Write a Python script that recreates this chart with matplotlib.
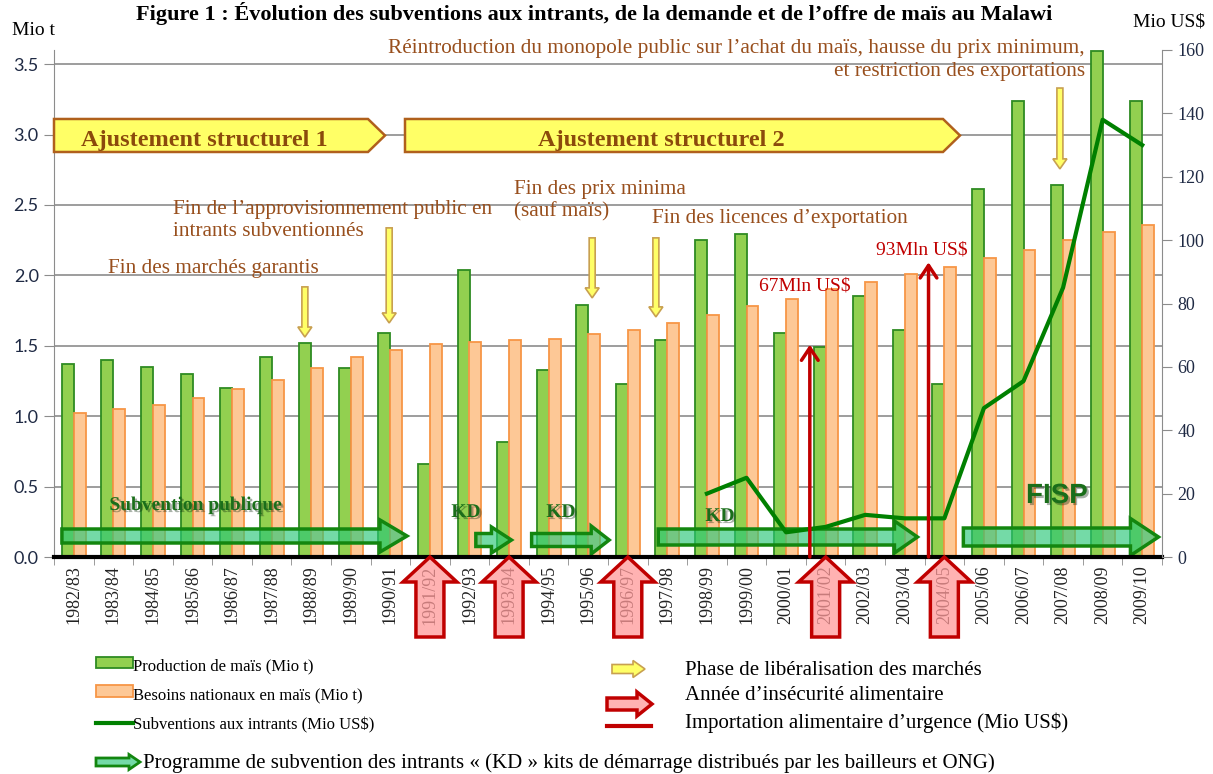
import numpy as np
import matplotlib.pyplot as plt
from matplotlib.patches import Polygon
import matplotlib.patheffects as pe

plt.rcParams['font.family'] = ['Liberation Serif', 'DejaVu Serif']

seasons = ['1982/83', '1983/84', '1984/85', '1985/86', '1986/87', '1987/88', '1988/89',
           '1989/90', '1990/91', '1991/92', '1992/93', '1993/94', '1994/95', '1995/96',
           '1996/97', '1997/98', '1998/99', '1999/00', '2000/01', '2001/02', '2002/03',
           '2003/04', '2004/05', '2005/06', '2006/07', '2007/08', '2008/09', '2009/10']
production = [1.37, 1.40, 1.35, 1.30, 1.20, 1.42, 1.52, 1.34, 1.59, 0.66, 2.04, 0.82, 1.33, 1.79,
              1.23, 1.54, 2.25, 2.29, 1.59, 1.49, 1.85, 1.61, 1.23, 2.61, 3.24, 2.64, 3.59, 3.24]
needs = [1.02, 1.05, 1.08, 1.13, 1.19, 1.26, 1.34, 1.42, 1.47, 1.51, 1.53, 1.54, 1.55, 1.58,
         1.61, 1.66, 1.72, 1.78, 1.83, 1.90, 1.95, 2.01, 2.06, 2.12, 2.18, 2.25, 2.31, 2.36]
subsidies = [np.nan] * 16 + [20, 25, 7.8, 9.5, 13.3, 12.2, 12.2, 47, 55.5, 85, 138, 130]
import_years = ['2001/02', '2004/05']
import_values = [67, 93]
import_labels = ['67Mln US$', '93Mln US$']
insecurity_years = ['1991/92', '1993/94', '1996/97', '2001/02', '2004/05']
liberal_years = ['1988/89', '1990/91', '1995/96', '1997/98', '2007/08']

W, H = 1213, 774
L, R, T, B = 54, 1162, 50, 557
n = len(seasons)
XPX = (R - L) / n
YPX = (B - T) / 3.6

BROWN = '#984f1d'
RED = '#c00000'
DKGREEN = '#1a6e1a'


def dx(px):
    return (px - L) / XPX - 0.5


def dy(py):
    return (B - py) / YPX


def harrow(ax, x0, x1, yc, shaft, head, hlen, fc, ec, lw=2, z=5):
    hs, hh, hl = shaft / 2 / YPX, head / 2 / YPX, hlen / XPX
    pts = [(x0, yc - hs), (x1 - hl, yc - hs), (x1 - hl, yc - hh), (x1, yc),
           (x1 - hl, yc + hh), (x1 - hl, yc + hs), (x0, yc + hs)]
    ax.add_patch(Polygon(pts, closed=True, fc=fc, ec=ec, lw=lw, zorder=z,
                         clip_on=False, joinstyle='miter'))


def varrow(ax, xc, y0, y1, shaft, head, hlen, fc, ec, lw=2, z=5):
    s = 1 if y1 > y0 else -1
    hs, hh, hl = shaft / 2 / XPX, head / 2 / XPX, s * hlen / YPX
    pts = [(xc - hs, y0), (xc - hs, y1 - hl), (xc - hh, y1 - hl), (xc, y1),
           (xc + hh, y1 - hl), (xc + hs, y1 - hl), (xc + hs, y0)]
    ax.add_patch(Polygon(pts, closed=True, fc=fc, ec=ec, lw=lw, zorder=z,
                         clip_on=False, joinstyle='miter'))


def ftext(px, py, s, **kw):
    kw.setdefault('va', 'baseline')
    return fig.text(px / W, 1 - py / H, s, **kw)


fig = plt.figure(figsize=(W / 100, H / 100), dpi=100)
ax = fig.add_axes([L / W, (H - B) / H, (R - L) / W, (B - T) / H])
x = np.arange(n)

ax.bar(x - 0.15, production, 0.3, color='#92d050', edgecolor='#2e8b22', lw=1.3, zorder=2)
ax.bar(x + 0.15, needs, 0.3, color='#fdc896', edgecolor='#f79646', lw=1.3, zorder=2)

ax.set_xlim(-0.5, n - 0.5)
ax.set_ylim(0, 3.6)
ax.set_yticks(np.arange(0, 3.51, 0.5))
ax.set_yticklabels([f'{v:.1f}' for v in np.arange(0, 3.51, 0.5)])
ax.yaxis.grid(True, color='#8c8c8c', lw=1.2)
ax.set_axisbelow(True)
ax.tick_params(axis='y', length=7, color='#8c8c8c', labelsize=13, labelcolor='#1f2a44',
               labelfontfamily='Lato', pad=4)
ax.set_xticks(x, seasons, rotation=90, fontsize=13, color='#222222')
ax.set_xticks(np.arange(n + 1) - 0.5, minor=True)
ax.tick_params(axis='x', which='major', length=0, pad=6)
ax.tick_params(axis='x', which='minor', length=6, color='#8c8c8c')
for s in ['top', 'right']:
    ax.spines[s].set_visible(False)
ax.spines['left'].set_color('#8c8c8c')
ax.spines['bottom'].set_color('black')
ax.spines['bottom'].set_linewidth(3)
ax.spines['bottom'].set_zorder(6)

ax2 = ax.twinx()
ax2.set_ylim(0, 160)
ax2.set_yticks(range(0, 161, 20))
ax2.tick_params(axis='y', length=7, color='#8c8c8c', labelsize=13, labelcolor='#1f2a44', pad=4)
for s in ['top', 'left', 'bottom']:
    ax2.spines[s].set_visible(False)
ax2.spines['right'].set_color('#8c8c8c')
ax2.plot(x, subsidies, color='#008000', lw=3, zorder=3)

# emergency food imports
for yr, v, lab, lx, ly in zip(import_years, import_values, import_labels, [759, 876], [291, 255]):
    xi = seasons.index(yr) - 0.4
    ax2.annotate('', xy=(xi, v), xytext=(xi, 0),
                 arrowprops=dict(arrowstyle='->,head_length=0.45,head_width=0.3', color=RED,
                                 lw=2.5, shrinkA=0, shrinkB=0, mutation_scale=20))
    ax.text(dx(lx), dy(ly), lab, color=RED, fontsize=14, zorder=7)

# structural adjustment phases
yel = '#ffff66'
harrow(ax, -0.5, dx(385), 2.993, 33, 33, 17, yel, '#b0601c', lw=1.8)
harrow(ax, dx(405), dx(960), 2.993, 33, 33, 17, yel, '#b0601c', lw=1.8)
ax.text(dx(204), dy(146), 'Ajustement structurel 1', ha='center', va='baseline', fontsize=17.5,
        fontweight='bold', color='#8b4a0c', zorder=7)
ax.text(dx(661), dy(146), 'Ajustement structurel 2', ha='center', va='baseline', fontsize=17.5,
        fontweight='bold', color='#8b4a0c', zorder=7)

# liberalisation arrows
lib_off = [-0.16, -0.03, 0.10, -0.29, -0.08]
lib_top = [1.918, 2.337, 2.266, 2.266, 3.33]
lib_tip = [1.562, 1.662, 1.84, 1.705, 2.756]
for yr, o, t0, t1 in zip(liberal_years, lib_off, lib_top, lib_tip):
    varrow(ax, seasons.index(yr) + o, t0, t1, 6, 14, 10, yel, '#c8a050', lw=1.2)

# food insecurity years
for yr in insecurity_years:
    varrow(ax, seasons.index(yr), dy(637), 0, 28, 54, 25, (1, 0.6, 0.6, 0.75), RED, lw=2.5, z=8)

# input subsidy programmes
kd_fc = (0.16, 0.78, 0.47, 0.65)
kd_ec = '#13860f'
kd = [(-0.3, 8.42, 536, 14, 32, 27), (10.16, 11.06, 540, 13, 26, 20),
      (11.57, 13.53, 540, 13, 28, 18), (14.77, 21.32, 537, 16, 32, 23),
      (22.48, 27.41, 537, 18, 37, 28)]
for x0, x1, yc, sh, hd, hl in kd:
    harrow(ax, x0, x1, dy(yc), sh, hd, hl, kd_fc, kd_ec, lw=2.5, z=4)
shadow = [pe.withSimplePatchShadow(offset=(1.5, -1.5), alpha=0.35)]
ax.text(dx(196), dy(510), 'Subvention publique', ha='center', va='baseline', fontsize=14,
        fontweight='bold', color=DKGREEN, path_effects=shadow, zorder=7)
for cx, by in [(466, 517), (561, 517), (720, 521)]:
    ax.text(dx(cx), dy(by), 'KD', ha='center', va='baseline', fontsize=14,
            fontweight='bold', color=DKGREEN, path_effects=shadow, zorder=7)
ax.text(dx(1057), dy(503), 'FISP', ha='center', va='baseline', fontsize=20,
        fontweight='bold', color=DKGREEN, family='Liberation Sans', path_effects=shadow, zorder=7)

# policy annotations
notes = [(1085, 53, 'Réintroduction du monopole public sur l\u2019achat du maïs, hausse du prix minimum,', 'right'),
         (1085, 76, 'et restriction des exportations', 'right'),
         (173, 214, 'Fin de l\u2019approvisionnement public en', 'left'),
         (173, 236, 'intrants subventionnés', 'left'),
         (108, 273, 'Fin des marchés garantis', 'left'),
         (514, 194, 'Fin des prix minima', 'left'),
         (514, 216, '(sauf maïs)', 'left'),
         (652, 223, 'Fin des licences d\u2019exportation', 'left')]
for px, py, s, ha in notes:
    ax.text(dx(px), dy(py), s, ha=ha, va='baseline', fontsize=15.3, color=BROWN, zorder=7)

ftext(594, 20, 'Figure 1 : Évolution des subventions aux intrants, de la demande et de l\u2019offre de maïs au Malawi',
      ha='center', fontsize=16, fontweight='bold')
ftext(12, 35, 'Mio t', fontsize=14)
ftext(1133, 26, 'Mio US$', fontsize=14)

# legend
ax.add_patch(Polygon([(dx(96), dy(657)), (dx(133), dy(657)), (dx(133), dy(668)), (dx(96), dy(668))],
                     fc='#92d050', ec='#2e8b22', lw=1.3, clip_on=False))
ax.add_patch(Polygon([(dx(96), dy(685)), (dx(133), dy(685)), (dx(133), dy(697)), (dx(96), dy(697))],
                     fc='#fdc896', ec='#f79646', lw=1.3, clip_on=False))
ax.plot([dx(96), dx(133)], [dy(723), dy(723)], color='#008000', lw=3, clip_on=False)
harrow(ax, dx(612), dx(645), dy(669), 9, 17, 12, yel, '#c8a050', lw=1.2)
harrow(ax, dx(607), dx(652), dy(704), 12, 24, 15, (1, 0.6, 0.6, 0.75), RED, lw=2.5)
ax.plot([dx(607), dx(651)], [dy(726), dy(726)], color=RED, lw=3, clip_on=False)
harrow(ax, dx(96), dx(140), dy(762), 8, 15, 11, kd_fc, kd_ec, lw=2)

ftext(133, 670, 'Production de maïs (Mio t)', fontsize=12)
ftext(133, 700, 'Besoins nationaux en maïs (Mio t)', fontsize=12)
ftext(133, 729, 'Subventions aux intrants (Mio US$)', fontsize=12)
ftext(685, 675, 'Phase de libéralisation des marchés', fontsize=15)
ftext(685, 700, 'Année d\u2019insécurité alimentaire', fontsize=15)
ftext(685, 728, 'Importation alimentaire d\u2019urgence (Mio US$)', fontsize=15)
ftext(143, 768, 'Programme de subvention des intrants « (KD » kits de démarrage distribués par les bailleurs et ONG)',
      fontsize=15)

fig.savefig('out.png', dpi=100)
